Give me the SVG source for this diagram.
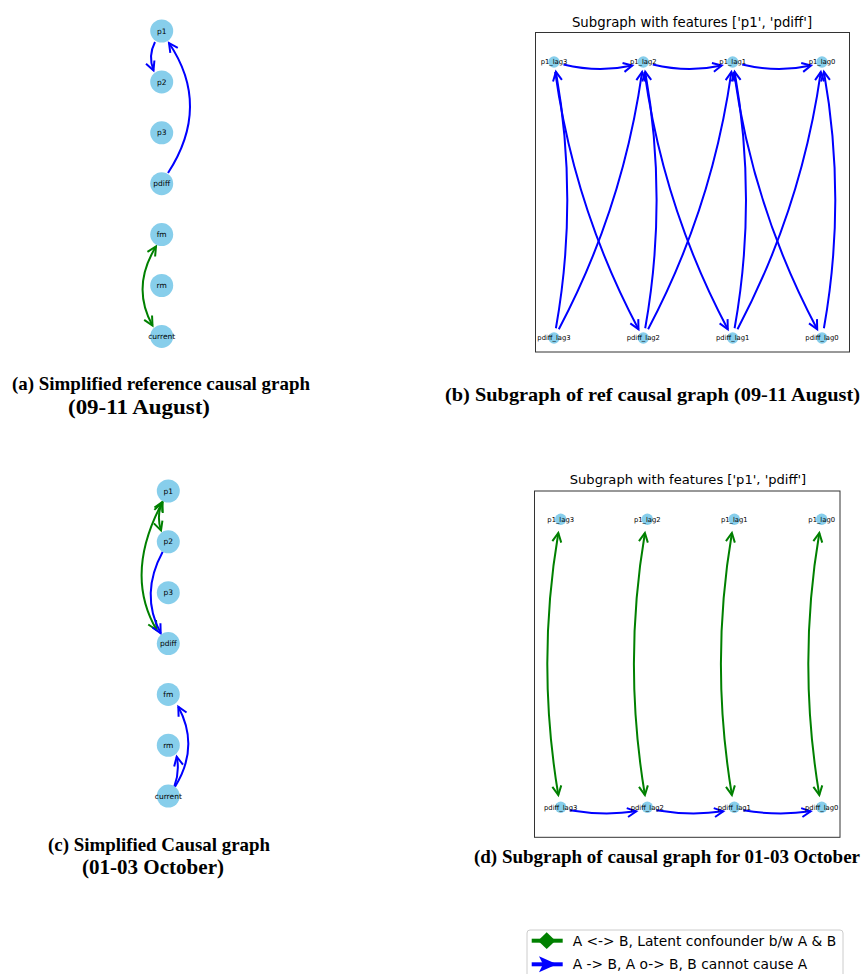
<svg xmlns="http://www.w3.org/2000/svg" width="861" height="974" viewBox="0 0 861 974">
  <style>
    .node { fill: #87ceeb; }
    .lbl { font-family: "DejaVu Sans", sans-serif; fill: #000; text-anchor: middle; }
    .lbl-l { font-size: 7.5px; }
    .lbl-s { font-size: 6.8px; }
    .eb { fill: none; stroke: #0000ff; stroke-width: 2; }
    .eg { fill: none; stroke: #008000; stroke-width: 2; }
    .frame { fill: none; stroke: #333; stroke-width: 1; }
    .title { font-family: "DejaVu Sans", sans-serif; fill: #000; text-anchor: middle; }
    .cap { font-family: "Liberation Serif", "Times New Roman", serif; font-weight: bold; font-size: 19px; fill: #000; }
    .cap2 { font-size: 20px; }
    .leg { font-family: "DejaVu Sans", sans-serif; font-size: 13.8px; fill: #000; }
  </style>
  <defs>
    <marker id="ah-blue" markerUnits="userSpaceOnUse" viewBox="-12 -8 14 16" markerWidth="14" markerHeight="16" refX="0" refY="0" orient="auto" overflow="visible">
      <path d="M-9,-4.5 L0,0 L-9,4.5" fill="none" stroke="#0000ff" stroke-width="2"/>
    </marker>
    <marker id="ah-green" markerUnits="userSpaceOnUse" viewBox="-12 -8 14 16" markerWidth="14" markerHeight="16" refX="0" refY="0" orient="auto-start-reverse" overflow="visible">
      <path d="M-9,-4.5 L0,0 L-9,4.5" fill="none" stroke="#008000" stroke-width="2"/>
    </marker>
  </defs>
  <rect width="861" height="974" fill="#fff"/>

  <!-- (a) simplified reference causal graph -->
  <g id="connectors-a">
    <path class="eb" d="M155,42 Q147.8,56 153.5,70.5" marker-end="url(#ah-blue)"/>
    <path class="eb" d="M168,173 Q211.5,106 169,43" marker-end="url(#ah-blue)"/>
    <path class="eg" d="M156,246.5 Q131,287 152.5,325.5" marker-start="url(#ah-green)" marker-end="url(#ah-green)"/>
  </g>
  <g id="a-p1"><circle class="node" cx="161.7" cy="31" r="11.5"/><text class="lbl lbl-l" x="161.7" y="33.6">p1</text></g>
  <g id="a-p2"><circle class="node" cx="161.7" cy="81.9" r="11.5"/><text class="lbl lbl-l" x="161.7" y="84.5">p2</text></g>
  <g id="a-p3"><circle class="node" cx="161.7" cy="132.8" r="11.5"/><text class="lbl lbl-l" x="161.7" y="135.4">p3</text></g>
  <g id="a-pdiff"><circle class="node" cx="161.7" cy="183.7" r="11.5"/><text class="lbl lbl-l" x="161.7" y="186.3">pdiff</text></g>
  <g id="a-fm"><circle class="node" cx="161.7" cy="234.6" r="11.5"/><text class="lbl lbl-l" x="161.7" y="237.2">fm</text></g>
  <g id="a-rm"><circle class="node" cx="161.7" cy="285.5" r="11.5"/><text class="lbl lbl-l" x="161.7" y="288.1">rm</text></g>
  <g id="a-current"><circle class="node" cx="161.7" cy="336.4" r="11.5"/><text class="lbl lbl-l" x="161.7" y="339">current</text></g>
  <text class="cap" x="12" y="390" textLength="298" lengthAdjust="spacingAndGlyphs">(a) Simplified reference causal graph</text>
  <text class="cap cap2" x="68" y="414" textLength="142" lengthAdjust="spacingAndGlyphs">(09-11 August)</text>

  <!-- (b) lagged subgraph, reference -->
  <text class="title" x="692" y="26.5" font-size="13.3">Subgraph with features ['p1', 'pdiff']</text>
  <rect class="frame" x="535.5" y="32.5" width="314" height="319.5"/>
  <g id="connectors-b">
    <path class="eb" d="M563.5,64.5 Q598.7,73 632.3,65.5" marker-end="url(#ah-blue)"/>
    <path class="eb" d="M652.8,64.5 Q688,73 721.7,65.5" marker-end="url(#ah-blue)"/>
    <path class="eb" d="M742.2,64.5 Q777.4,73 811,65.5" marker-end="url(#ah-blue)"/>
    <path class="eb" d="M555.9,328.2 Q578.7,200 555.9,71.8" marker-end="url(#ah-blue)"/>
    <path class="eb" d="M645.2,328.2 Q668,200 645.2,71.8" marker-end="url(#ah-blue)"/>
    <path class="eb" d="M734.6,328.2 Q757.4,200 734.6,71.8" marker-end="url(#ah-blue)"/>
    <path class="eb" d="M823.9,328.2 Q846.7,200 823.9,71.8" marker-end="url(#ah-blue)"/>
    <path class="eb" d="M558.8,329.2 Q622.9,208 642.1,71.9" marker-end="url(#ah-blue)"/>
    <path class="eb" d="M648.1,329.2 Q712.2,208 731.4,71.9" marker-end="url(#ah-blue)"/>
    <path class="eb" d="M737.5,329.2 Q801.6,208 820.8,71.9" marker-end="url(#ah-blue)"/>
    <path class="eb" d="M555.2,71.9 Q574.2,208 638.5,329.2" marker-end="url(#ah-blue)"/>
    <path class="eb" d="M644.5,71.9 Q663.5,208 727.8,329.2" marker-end="url(#ah-blue)"/>
    <path class="eb" d="M733.9,71.9 Q752.9,208 817.2,329.2" marker-end="url(#ah-blue)"/>
  </g>
  <g id="b-p1_lag3"><circle class="node" cx="554" cy="62" r="5.7"/><text class="lbl lbl-s" x="554" y="64.4">p1_lag3</text></g>
  <g id="b-p1_lag2"><circle class="node" cx="643.3" cy="62" r="5.7"/><text class="lbl lbl-s" x="643.3" y="64.4">p1_lag2</text></g>
  <g id="b-p1_lag1"><circle class="node" cx="732.7" cy="62" r="5.7"/><text class="lbl lbl-s" x="732.7" y="64.4">p1_lag1</text></g>
  <g id="b-p1_lag0"><circle class="node" cx="822" cy="62" r="5.7"/><text class="lbl lbl-s" x="822" y="64.4">p1_lag0</text></g>
  <g id="b-pdiff_lag3"><circle class="node" cx="554" cy="338" r="5.7"/><text class="lbl lbl-s" x="554" y="340.4">pdiff_lag3</text></g>
  <g id="b-pdiff_lag2"><circle class="node" cx="643.3" cy="338" r="5.7"/><text class="lbl lbl-s" x="643.3" y="340.4">pdiff_lag2</text></g>
  <g id="b-pdiff_lag1"><circle class="node" cx="732.7" cy="338" r="5.7"/><text class="lbl lbl-s" x="732.7" y="340.4">pdiff_lag1</text></g>
  <g id="b-pdiff_lag0"><circle class="node" cx="822" cy="338" r="5.7"/><text class="lbl lbl-s" x="822" y="340.4">pdiff_lag0</text></g>
  <text class="cap" x="445" y="401" textLength="415" lengthAdjust="spacingAndGlyphs">(b) Subgraph of ref causal graph (09-11 August)</text>

  <!-- (c) simplified causal graph -->
  <g id="connectors-c">
    <path class="eg" d="M161.7,503 Q156.5,517 161,530.5" marker-start="url(#ah-green)" marker-end="url(#ah-green)"/>
    <path class="eg" d="M162.7,501.7 Q123.7,574 156.7,630" marker-start="url(#ah-green)" marker-end="url(#ah-green)"/>
    <path class="eb" d="M162.7,551.7 Q139.7,594 160.7,633.3" marker-end="url(#ah-blue)"/>
    <path class="eb" d="M175,786.7 Q199.9,746.7 178.3,706.7" marker-end="url(#ah-blue)"/>
    <path class="eb" d="M174.3,786.7 Q179.9,771.7 176.7,756.7" marker-end="url(#ah-blue)"/>
  </g>
  <g id="c-p1"><circle class="node" cx="168.3" cy="491" r="11.5"/><text class="lbl lbl-l" x="168.3" y="493.6">p1</text></g>
  <g id="c-p2"><circle class="node" cx="168.3" cy="541.85" r="11.5"/><text class="lbl lbl-l" x="168.3" y="544.45">p2</text></g>
  <g id="c-p3"><circle class="node" cx="168.3" cy="592.7" r="11.5"/><text class="lbl lbl-l" x="168.3" y="595.3">p3</text></g>
  <g id="c-pdiff"><circle class="node" cx="168.3" cy="643.55" r="11.5"/><text class="lbl lbl-l" x="168.3" y="646.15">pdiff</text></g>
  <g id="c-fm"><circle class="node" cx="168.3" cy="694.4" r="11.5"/><text class="lbl lbl-l" x="168.3" y="697">fm</text></g>
  <g id="c-rm"><circle class="node" cx="168.3" cy="745.25" r="11.5"/><text class="lbl lbl-l" x="168.3" y="747.85">rm</text></g>
  <g id="c-current"><circle class="node" cx="168.3" cy="796.1" r="11.5"/><text class="lbl lbl-l" x="168.3" y="798.7">current</text></g>
  <text class="cap" x="48" y="851" textLength="222" lengthAdjust="spacingAndGlyphs">(c) Simplified Causal graph</text>
  <text class="cap cap2" x="82" y="874" textLength="142" lengthAdjust="spacingAndGlyphs">(01-03 October)</text>

  <!-- (d) lagged subgraph, 01-03 October -->
  <text class="title" x="688" y="484" font-size="13.1">Subgraph with features ['p1', 'pdiff']</text>
  <rect class="frame" x="534.5" y="491" width="305.5" height="346.3"/>
  <g id="connectors-d">
    <path class="eg" d="M558.3,533 Q536.3,663.3 558.3,795" marker-start="url(#ah-green)" marker-end="url(#ah-green)"/>
    <path class="eg" d="M644.9,533 Q622.9,663.3 644.9,795" marker-start="url(#ah-green)" marker-end="url(#ah-green)"/>
    <path class="eg" d="M731.9,533 Q709.9,663.3 731.9,795" marker-start="url(#ah-green)" marker-end="url(#ah-green)"/>
    <path class="eg" d="M819.3,533 Q797.3,663.3 819.3,795" marker-start="url(#ah-green)" marker-end="url(#ah-green)"/>
    <path class="eb" d="M569.7,810.3 Q604,816 636.3,811.3" marker-end="url(#ah-blue)"/>
    <path class="eb" d="M656.3,810.3 Q690.8,816 723.3,811.3" marker-end="url(#ah-blue)"/>
    <path class="eb" d="M743.3,810.3 Q778,816 810.7,811.3" marker-end="url(#ah-blue)"/>
  </g>
  <g id="d-p1_lag3"><circle class="node" cx="560.7" cy="519.3" r="5.7"/><text class="lbl lbl-s" x="560.7" y="521.7">p1_lag3</text></g>
  <g id="d-p1_lag2"><circle class="node" cx="647.3" cy="519.3" r="5.7"/><text class="lbl lbl-s" x="647.3" y="521.7">p1_lag2</text></g>
  <g id="d-p1_lag1"><circle class="node" cx="734.3" cy="519.3" r="5.7"/><text class="lbl lbl-s" x="734.3" y="521.7">p1_lag1</text></g>
  <g id="d-p1_lag0"><circle class="node" cx="821.7" cy="519.3" r="5.7"/><text class="lbl lbl-s" x="821.7" y="521.7">p1_lag0</text></g>
  <g id="d-pdiff_lag3"><circle class="node" cx="560.7" cy="807.3" r="5.7"/><text class="lbl lbl-s" x="560.7" y="809.7">pdiff_lag3</text></g>
  <g id="d-pdiff_lag2"><circle class="node" cx="647.3" cy="807.3" r="5.7"/><text class="lbl lbl-s" x="647.3" y="809.7">pdiff_lag2</text></g>
  <g id="d-pdiff_lag1"><circle class="node" cx="734.3" cy="807.3" r="5.7"/><text class="lbl lbl-s" x="734.3" y="809.7">pdiff_lag1</text></g>
  <g id="d-pdiff_lag0"><circle class="node" cx="821.7" cy="807.3" r="5.7"/><text class="lbl lbl-s" x="821.7" y="809.7">pdiff_lag0</text></g>
  <text class="cap" x="474" y="863" textLength="386" lengthAdjust="spacingAndGlyphs">(d) Subgraph of causal graph for 01-03 October</text>

  <!-- legend -->
  <g id="legend">
    <rect x="527" y="930" width="316" height="60" rx="3" fill="#fff" stroke="#ccc" stroke-width="1"/>
    <line x1="531.7" y1="940.7" x2="562.7" y2="940.7" stroke="#008000" stroke-width="4"/>
    <polygon points="546.7,932.3 555.4,940.7 546.7,949.1 538,940.7" fill="#008000"/>
    <text class="leg" x="572.7" y="945.7">A &lt;-&gt; B, Latent confounder b/w A &amp; B</text>
    <line x1="531.7" y1="964.3" x2="562.7" y2="964.3" stroke="#0000ff" stroke-width="4"/>
    <polygon points="539,956.3 557,964.3 539,972.3 543,964.3" fill="#0000ff"/>
    <text class="leg" x="572.7" y="969.3">A -&gt; B, A o-&gt; B, B cannot cause A</text>
  </g>
</svg>
